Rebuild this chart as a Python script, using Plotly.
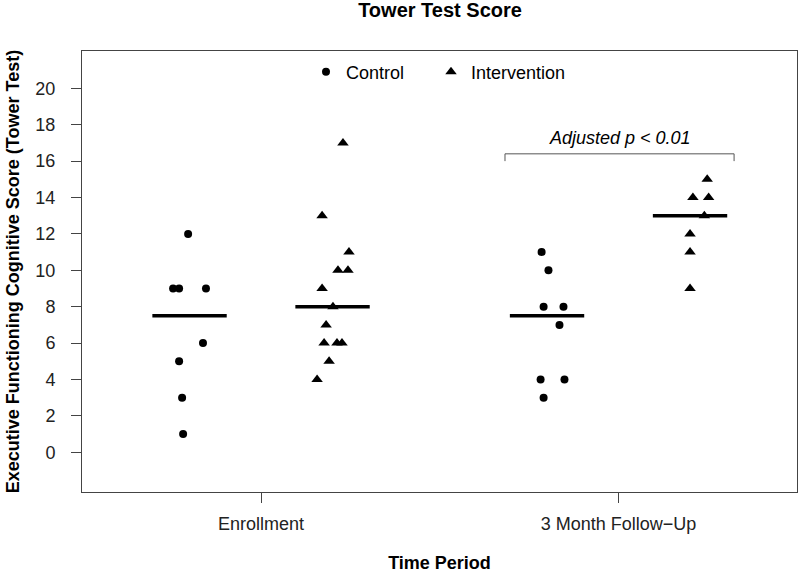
import numpy as np
import plotly.graph_objects as go

# ---- data ----
categories = ["Enrollment", "3 Month Follow\u2212Up"]
category_ticks = [1.5, 4.0]
group_pos = {"enr_ctrl": 1.0, "enr_int": 2.0, "fu_ctrl": 3.5, "fu_int": 4.5}

enr_ctrl = [12, 9, 9, 9, 6, 5, 3, 1]
enr_ctrl_jit = [-0.01, -0.115, -0.073, 0.115, 0.094, -0.073, -0.052, -0.045]
enr_int = [17, 13, 11, 10, 10, 9, 8, 7, 6, 6, 6, 5, 4]
enr_int_jit = [0.073, -0.073, 0.115, 0.038, 0.108, -0.073, 0.003, -0.045, -0.059, 0.031, 0.066, -0.024, -0.108]
fu_ctrl = [11, 10, 8, 8, 7, 4, 4, 3]
fu_ctrl_jit = [-0.038, 0.010, -0.024, 0.115, 0.087, -0.045, 0.122, -0.024]
fu_int = [15, 14, 14, 13, 12, 11, 9]
fu_int_jit = [0.12, 0.02, 0.13, 0.10, 0.0, 0.0, 0.0]

y_ticks = list(range(0, 21, 2))
bracket_x = [3.206, 4.808]
bracket_y = [16.0, 16.4]
annot_text = "Adjusted p < 0.01"

FONT = "Liberation Sans, Arial, sans-serif"
AX = "#444444"
FS = 18

fig = go.Figure()

def add_group(vals, jit, key, symbol, size, name, showlegend, legend):
    c = group_pos[key]
    fig.add_trace(go.Scatter(
        x=[c + j for j in jit], y=vals, mode="markers", name=name,
        legendgroup=name, showlegend=showlegend, legend=legend,
        marker=dict(symbol=symbol, size=size, color="black", line=dict(width=0)),
        hoverinfo="skip"))
    m = float(np.median(vals))
    fig.add_trace(go.Scatter(
        x=[c - 0.26, c + 0.26], y=[m, m], mode="lines", showlegend=False,
        line=dict(color="black", width=3.5), hoverinfo="skip"))

add_group(enr_ctrl, enr_ctrl_jit, "enr_ctrl", "circle", 8, "Control", True, "legend")
add_group(enr_int, enr_int_jit, "enr_int", "triangle-up", 10, "Intervention", True, "legend2")
add_group(fu_ctrl, fu_ctrl_jit, "fu_ctrl", "circle", 8, "Control", False, "legend")
add_group(fu_int, fu_int_jit, "fu_int", "triangle-up", 10, "Intervention", False, "legend2")

# significance bracket
fig.add_trace(go.Scatter(
    x=[bracket_x[0], bracket_x[0], bracket_x[1], bracket_x[1]],
    y=[bracket_y[0], bracket_y[1], bracket_y[1], bracket_y[0]],
    mode="lines", showlegend=False, line=dict(color="#555555", width=1),
    hoverinfo="skip"))
fig.add_annotation(x=(bracket_x[0] + bracket_x[1]) / 2, y=bracket_y[1] + 0.2,
                   text="<i>" + annot_text + "</i>", showarrow=False,
                   xanchor="center", yanchor="bottom",
                   font=dict(family=FONT, size=FS, color="black"))

legend_common = dict(orientation="h", xanchor="left", yanchor="middle",
                     y=(492 - 72) / 441, yref="paper", bgcolor="rgba(0,0,0,0)",
                     font=dict(family=FONT, size=FS, color="black"))

fig.update_layout(
    width=800, height=573,
    margin=dict(l=82, r=3, t=51, b=81, autoexpand=False),
    paper_bgcolor="white", plot_bgcolor="white",
    font=dict(family=FONT, size=FS, color="black"),
    title=dict(text="<b>Tower Test Score</b>", x=0.55, xanchor="center",
               y=1 - 10 / 573, yanchor="middle",
               font=dict(family=FONT, size=20, color="black")),
    showlegend=True,
    legend=dict(x=(306 - 82) / 715, **legend_common),
    legend2=dict(x=(431 - 82) / 715, **legend_common),
    xaxis=dict(range=[0.248, 5.248], tickvals=category_ticks, ticktext=categories,
               ticks="outside", ticklen=10, tickcolor=AX, showgrid=False, automargin=False,
               zeroline=False, showline=True, linecolor=AX, linewidth=1, mirror=True,
               tickfont=dict(family=FONT, size=FS, color="#222222"),
               ticklabelstandoff=5,
               title=dict(text="<b>Time Period</b>", standoff=30,
                          font=dict(family=FONT, size=FS, color="black"))),
    yaxis=dict(range=[-2.18, 22.05], tickvals=y_ticks, automargin=False,
               ticks="outside", ticklen=10, tickcolor=AX, showgrid=False,
               zeroline=False, showline=True, linecolor=AX, linewidth=1, mirror=True,
               tickfont=dict(family=FONT, size=FS, color="#222222"),
               ticklabelstandoff=12,
               title=dict(text="<b>Executive Functioning Cognitive Score (Tower Test)</b>",
                          standoff=11, font=dict(family=FONT, size=FS, color="black"))),
)

fig.write_html("out.html", config={"displayModeBar": False},
               post_script="document.body.style.margin='0';")
